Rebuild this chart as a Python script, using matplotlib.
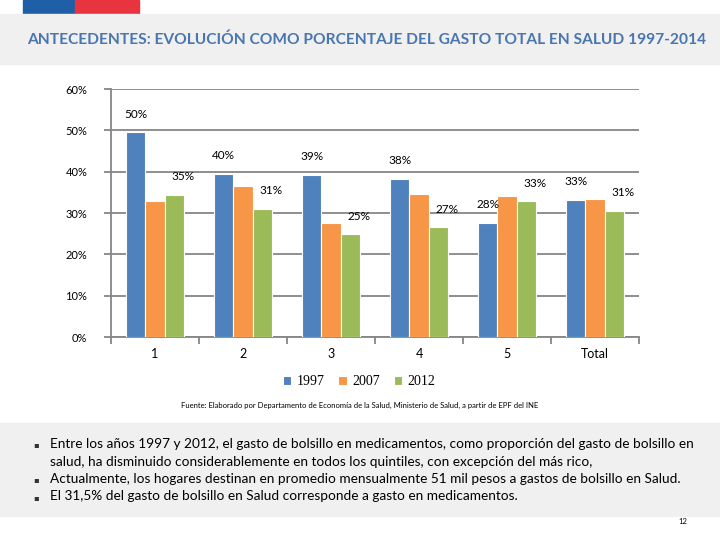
import numpy as np
import matplotlib.pyplot as plt
from matplotlib.patches import Rectangle

categories = ["1", "2", "3", "4", "5", "Total"]
years = ["1997", "2007", "2012"]
v1997 = [49.5, 39.5, 39.2, 38.3, 27.7, 33.2]
v2007 = [33.0, 36.6, 27.7, 34.5, 34.1, 33.5]
v2012 = [34.4, 31.0, 24.9, 26.6, 32.8, 30.5]
lab1997 = ["50%", "40%", "39%", "38%", "28%", "33%"]
lab2012 = ["35%", "31%", "25%", "27%", "33%", "31%"]
colors = ["#4f81bd", "#f79646", "#9bbb59"]

title = "ANTECEDENTES: EVOLUCIÓN COMO PORCENTAJE DEL GASTO TOTAL EN SALUD 1997-2014"
source = ("Fuente: Elaborado por Departamento de Economía de la Salud, Ministerio de Salud, "
          "a partir de EPF del INE")
bullet_lines = [
    ["Entre los años 1997 y 2012, el gasto de bolsillo en medicamentos, como proporción del gasto de bolsillo en",
     "salud, ha disminuido considerablemente en todos los quintiles, con excepción del más rico,"],
    ["Actualmente, los hogares destinan en promedio mensualmente 51 mil pesos a gastos de bolsillo en Salud."],
    ["El 31,5% del gasto de bolsillo en Salud corresponde a gasto en medicamentos."],
]

fig = plt.figure(figsize=(7.2, 5.4), dpi=100)

# slide decorations
def box(x, y, w, h, c):
    fig.patches.append(Rectangle((x / 720, 1 - (y + h) / 540), w / 720, h / 540,
                                 transform=fig.transFigure, color=c, zorder=0))

box(23, 0, 52, 14, "#1f5fa8")
box(75, 0, 64, 14, "#e8343f")
box(0, 14, 720, 50, "#f0f0f0")
box(0, 423, 720, 93, "#f0f0f0")

fig.text(27 / 720, 1 - 40 / 540, title, fontsize=11.2, color="#4a76b0",
         fontweight="bold", family="Lato", va="center", ha="left")

ax = fig.add_axes([111 / 720, 1 - 337 / 540, 528 / 720, 248 / 540])
x = np.arange(len(categories))
w = 0.22
series = [v1997, v2007, v2012]
for i, (vals, c) in enumerate(zip(series, colors)):
    ax.bar(x + (i - 1) * w, vals, w, color=c, edgecolor="white", linewidth=0.8,
           label=years[i], zorder=3)

for xi, v, t in zip(x, v1997, lab1997):
    ax.annotate(t, (xi - w, v), xytext=(0, 9), textcoords="offset points",
                ha="center", va="bottom", fontsize=8.5, family="Lato")
for xi, v, t in zip(x, v2012, lab2012):
    ax.annotate(t, (xi + w, v), xytext=(6, 9), textcoords="offset points",
                ha="center", va="bottom", fontsize=8.5, family="Lato")

ax.set_xlim(-0.5, len(categories) - 0.5)
ax.set_ylim(0, 60)
ax.set_yticks(np.arange(0, 61, 10))
ax.set_yticklabels([f"{t}%" for t in range(0, 61, 10)], fontsize=8, family="Lato")
ax.yaxis.grid(True, color="#868686", linewidth=1.3, zorder=0)
ax.set_xticks(np.arange(-0.5, len(categories)), minor=False)
ax.set_xticklabels([])
ax.set_xticks(x, minor=True)
ax.set_xticklabels(categories, minor=True, fontsize=9, family="Lato")
ax.tick_params(axis="x", which="minor", length=0, pad=8)
ax.tick_params(axis="x", which="major", length=5, color="#868686", width=1.3)
ax.tick_params(axis="y", length=5, color="#868686", width=1.3, pad=12)
for s in ["top", "right"]:
    ax.spines[s].set_visible(False)
for s in ["left", "bottom"]:
    ax.spines[s].set_color("#868686")
    ax.spines[s].set_linewidth(1.3)
ax.set_axisbelow(True)

leg = ax.legend(loc="center", bbox_to_anchor=(0.47, -0.18), ncol=3, frameon=False,
                prop={"family": "Liberation Serif", "size": 10}, handlelength=0.6,
                handleheight=0.6, handletextpad=0.4, columnspacing=1.0)

fig.text(0.5, 1 - 405 / 540, source, fontsize=5.5, ha="center", va="center", family="Lato")

baseline = 448
for lines in bullet_lines:
    fig.text(33 / 720, 1 - (baseline - 4) / 540, "▪", fontsize=6, va="center_baseline",
             ha="left", family="DejaVu Sans", color="#333333")
    for ln in lines:
        fig.text(50 / 720, 1 - baseline / 540, ln, fontsize=9.8, va="baseline",
                 ha="left", family="Lato")
        baseline += 17.5

fig.text(683 / 720, 1 - 521 / 540, "12", fontsize=5.5, ha="center", va="center", family="Lato")

fig.savefig("out.png", dpi=100)
